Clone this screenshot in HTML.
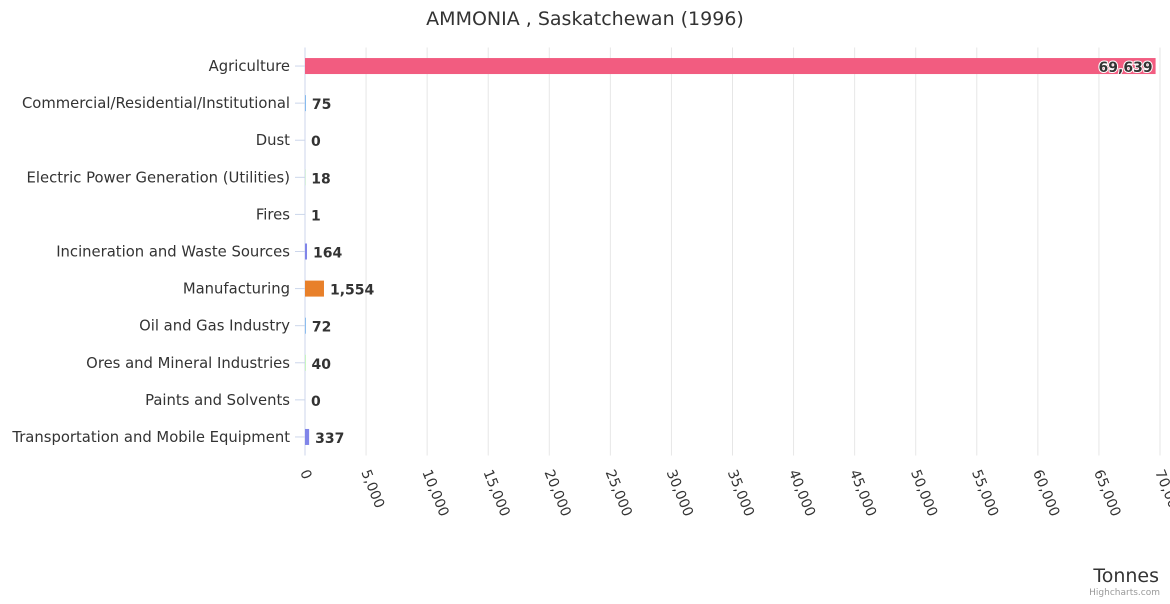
<!DOCTYPE html>
<html><head><meta charset="utf-8"><style>
body{margin:0;background:#fff;font-family:"DejaVu Sans","Liberation Sans",sans-serif}
</style></head><body>
<svg id="c" width="1170" height="600" xmlns="http://www.w3.org/2000/svg" font-family="DejaVu Sans, Liberation Sans, sans-serif">
<text x="585" y="25" text-anchor="middle" font-size="19" fill="#333">AMMONIA , Saskatchewan (1996)</text>
<g id="grid"></g><g id="bars"></g><g id="ylab"></g><g id="xlab"></g>
<text x="1159" y="582" text-anchor="end" font-size="19" fill="#333">Tonnes</text>
<text x="1160" y="595" text-anchor="end" font-size="9" fill="#999">Highcharts.com</text>
</svg>
<script>
const categories=["Agriculture","Commercial/Residential/Institutional","Dust","Electric Power Generation (Utilities)","Fires","Incineration and Waste Sources","Manufacturing","Oil and Gas Industry","Ores and Mineral Industries","Paints and Solvents","Transportation and Mobile Equipment"];
const values=[69639,75,0,18,1,164,1554,72,40,0,337];
const colors=["#f25c80","#7cb5ec","#434348","#90ed7d","#f7a35c","#8085e9","#e8802a","#7cb5ec","#90ed7d","#f7a35c","#8085e9"];
const ticks=[0,5000,10000,15000,20000,25000,30000,35000,40000,45000,50000,55000,60000,65000,70000];
const NS="http://www.w3.org/2000/svg";
const px0=305,px1=1160,ptop=47.5,pbot=455.5,xmax=70000;
const X=v=>px0+v/xmax*(px1-px0);
const band=(pbot-ptop)/categories.length;
const Y=i=>ptop+band*(i+0.5);
function mk(t,a,p){const e=document.createElementNS(NS,t);for(const k in a)e.setAttribute(k,a[k]);p.appendChild(e);return e;}
const g=document.getElementById('grid'),b=document.getElementById('bars'),yl=document.getElementById('ylab'),xl=document.getElementById('xlab');
ticks.forEach(t=>{
 const l=mk('line',{x1:X(t),x2:X(t),y1:ptop,y2:pbot,stroke:t==0?'#ccd6eb':'#e6e6e6'},g);
 
 
 const tx=mk('text',{x:X(t)-5,y:472,'font-size':14,fill:'#333',transform:`rotate(68 ${X(t)-5} 472)`},xl);
 tx.textContent=t.toLocaleString('en-US');
 
 
});
categories.forEach((c,i)=>{
 const y=Y(i);
 const tk=mk('line',{x1:px0-10,x2:px0,y1:y,y2:y,stroke:'#ccd6eb'},g);
 
 
 const t=mk('text',{x:290,y:y+5,'text-anchor':'end','font-size':14.8,fill:'#333'},yl);
 t.textContent=c;
 
 
 const w=X(values[i])-px0;
 const r=mk('rect',{x:px0,y:y-8,width:Math.max(w,0),height:16,fill:colors[i]},b);
 
 
 const inside=w>100;
 const v=mk('text',{x:inside?px0+w-3:px0+w+6,y:y+6,'text-anchor':inside?'end':'start','font-size':14,'font-weight':'bold',fill:'#333',stroke:'#fff','stroke-width':inside?2:0,'paint-order':'stroke'},b);
 v.textContent=values[i].toLocaleString('en-US');
 
 
});
</script>
</body></html>
